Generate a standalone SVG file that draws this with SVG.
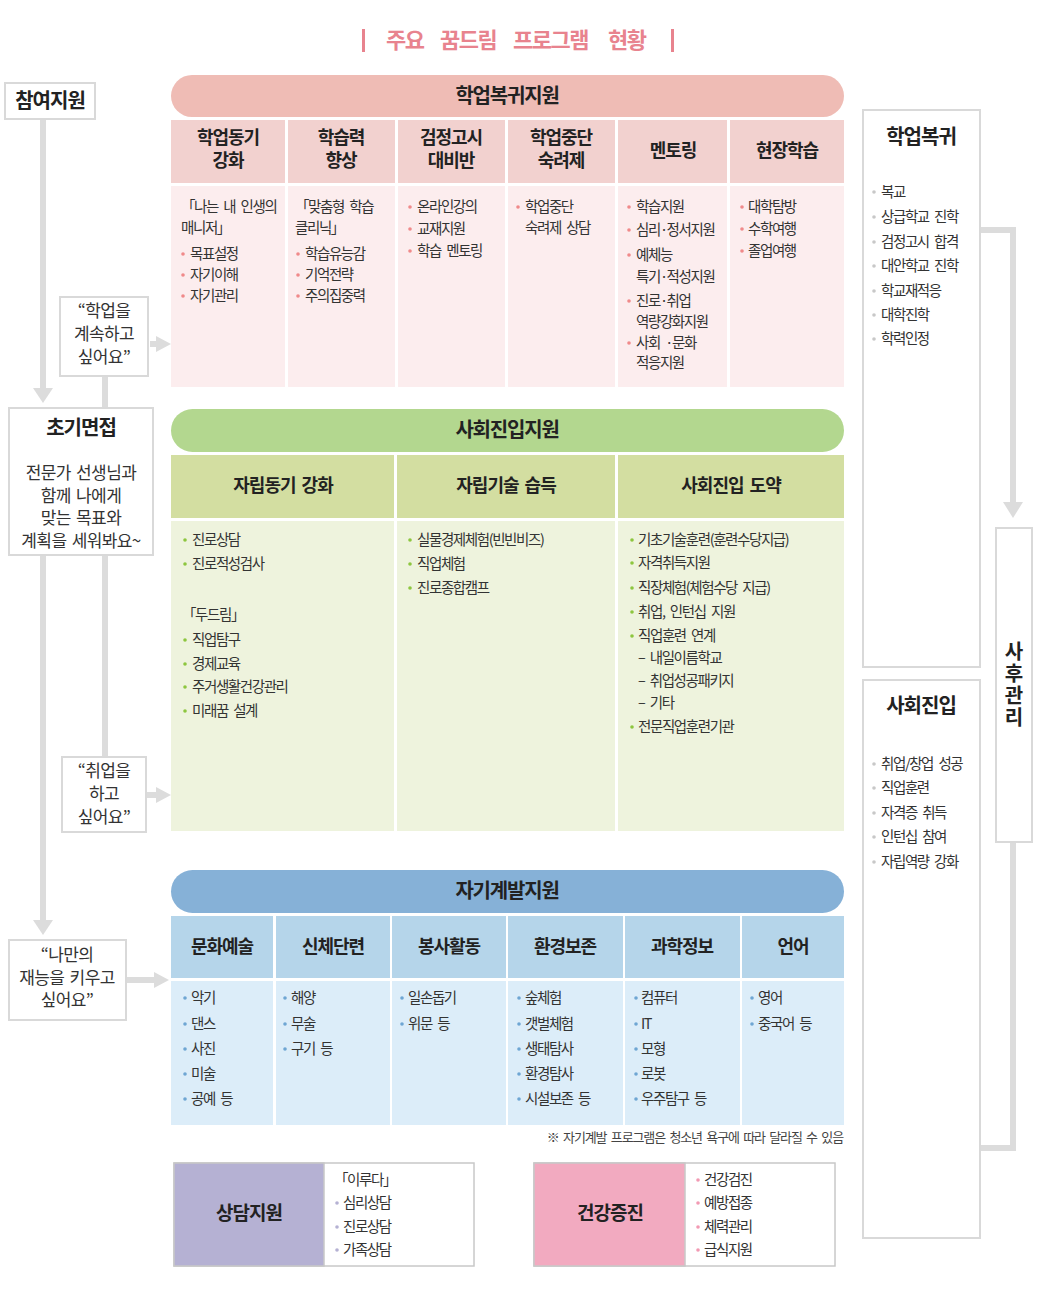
<svg xmlns="http://www.w3.org/2000/svg" width="1040" height="1300" viewBox="0 0 1040 1300">
<style>
text{font-family:"Noto Sans CJK KR","Noto Sans",sans-serif;}
.ttl{font-size:22px;font-weight:700;fill:#e8838e;letter-spacing:-1.5px;}
.pill{font-size:20px;font-weight:700;fill:#222;letter-spacing:-1.2px;text-anchor:middle;}
.hd{font-size:18px;font-weight:700;fill:#222;letter-spacing:-1px;word-spacing:3px;text-anchor:middle;}
.t{font-size:14.5px;fill:#333;letter-spacing:-1.4px;word-spacing:3.5px;}
.lt{font-size:17px;fill:#333;letter-spacing:-0.6px;word-spacing:2px;text-anchor:middle;}
.bt{font-size:20px;font-weight:700;fill:#222;letter-spacing:-1px;text-anchor:middle;}
.note{font-size:13px;fill:#444;letter-spacing:-1.1px;word-spacing:2.5px;text-anchor:end;}
.box{fill:#fff;stroke:#d9d9d9;stroke-width:2;}
.ln{fill:none;stroke:#dcdcdc;stroke-width:6;}
.ah{fill:#dcdcdc;}
.bp{fill:#f08a8a;}
.bg{fill:#8dc63f;}
.bb{fill:#6ea6d3;}
.bl{fill:#b5b1d3;}
.bk{fill:#f29ab3;}
.bz{fill:#c8c8c8;}
</style>

<!-- title -->
<g id="title">
<rect x="362" y="29" width="3" height="23" fill="#e8838e"/>
<rect x="671" y="29" width="3" height="23" fill="#e8838e"/>
<text class="ttl" y="48"><tspan x="386">주요</tspan><tspan x="440">꿈드림</tspan><tspan x="513">프로그램</tspan><tspan x="608">현황</tspan></text>
</g>

<!-- connectors -->
<g id="connectors">
<line class="ln" x1="43" y1="120" x2="43" y2="389"/>
<polygon class="ah" points="33,388 53,388 43,403"/>
<line class="ln" x1="105" y1="376" x2="105" y2="757"/>
<line class="ln" x1="43" y1="555" x2="43" y2="921"/>
<polygon class="ah" points="33,920 53,920 43,935"/>
<line class="ln" x1="150" y1="344" x2="158" y2="344"/>
<polygon class="ah" points="156,336 156,352 171,344"/>
<line class="ln" x1="147" y1="795" x2="158" y2="795"/>
<polygon class="ah" points="156,787 156,803 171,795"/>
<line class="ln" x1="127" y1="980" x2="156" y2="980"/>
<polygon class="ah" points="154,972 154,988 169,980"/>
<polyline class="ln" points="981,230 1013,230 1013,503"/>
<polygon class="ah" points="1003,502 1023,502 1013,518"/>
<polyline class="ln" points="1013,842 1013,1148 981,1148"/>
</g>

<!-- left nodes -->
<g id="n-participation">
<rect class="box" x="5" y="83" width="90" height="36"/>
<text class="bt" x="50" y="108">참여지원</text>
</g>
<g id="n-want-study">
<rect class="box" x="60" y="297" width="88" height="79"/>
<text class="lt" y="317"><tspan x="104">“학업을</tspan><tspan x="104" dy="23">계속하고</tspan><tspan x="104" dy="23">싶어요”</tspan></text>
</g>
<g id="n-interview">
<rect class="box" x="9" y="408" width="144" height="147"/>
<text class="bt" x="81" y="435">초기면접</text>
<text class="lt" y="479"><tspan x="81">전문가 선생님과</tspan><tspan x="81" dy="23">함께 나에게</tspan><tspan x="81" dy="22">맞는 목표와</tspan><tspan x="81" dy="23">계획을 세워봐요~</tspan></text>
</g>
<g id="n-want-job">
<rect class="box" x="62" y="757" width="84" height="75"/>
<text class="lt" y="777"><tspan x="104">“취업을</tspan><tspan x="104" dy="23">하고</tspan><tspan x="104" dy="23">싶어요”</tspan></text>
</g>
<g id="n-want-talent">
<rect class="box" x="9" y="940" width="117" height="80"/>
<text class="lt" y="961"><tspan x="67">“나만의</tspan><tspan x="67" dy="23">재능을 키우고</tspan><tspan x="67" dy="22">싶어요”</tspan></text>
</g>

<!-- academic return support -->
<g id="n-academic">
<rect x="171" y="75" width="673" height="42" rx="21" fill="#efbcb5"/>
<text class="pill" x="507" y="103">학업복귀지원</text>
<g fill="#f2d1cf">
<rect x="171" y="120" width="114" height="63"/>
<rect x="288" y="120" width="107" height="63"/>
<rect x="398" y="120" width="107" height="63"/>
<rect x="508" y="120" width="107" height="63"/>
<rect x="618" y="120" width="109" height="63"/>
<rect x="730" y="120" width="114" height="63"/>
</g>
<g fill="#fcedee">
<rect x="171" y="186" width="114" height="201"/>
<rect x="288" y="186" width="107" height="201"/>
<rect x="398" y="186" width="107" height="201"/>
<rect x="508" y="186" width="107" height="201"/>
<rect x="618" y="186" width="109" height="201"/>
<rect x="730" y="186" width="114" height="201"/>
</g>
<text class="hd" y="144"><tspan x="228">학업동기</tspan><tspan x="228" dy="23">강화</tspan></text>
<text class="hd" y="144"><tspan x="341">학습력</tspan><tspan x="341" dy="23">향상</tspan></text>
<text class="hd" y="144"><tspan x="451">검정고시</tspan><tspan x="451" dy="23">대비반</tspan></text>
<text class="hd" y="144"><tspan x="561">학업중단</tspan><tspan x="561" dy="23">숙려제</tspan></text>
<text class="hd" x="673" y="157">멘토링</text>
<text class="hd" x="787" y="157">현장학습</text>

<text class="t" y="212"><tspan x="181">「나는 내 인생의</tspan><tspan x="181" dy="21">매니저」</tspan></text>
<circle class="bp" cx="183" cy="254" r="1.8"/><text class="t" x="190" y="259">목표설정</text>
<circle class="bp" cx="183" cy="275" r="1.8"/><text class="t" x="190" y="280">자기이해</text>
<circle class="bp" cx="183" cy="296" r="1.8"/><text class="t" x="190" y="301">자기관리</text>

<text class="t" y="212"><tspan x="295">「맞춤형 학습</tspan><tspan x="295" dy="21">클리닉」</tspan></text>
<circle class="bp" cx="298" cy="254" r="1.8"/><text class="t" x="305" y="259">학습유능감</text>
<circle class="bp" cx="298" cy="275" r="1.8"/><text class="t" x="305" y="280">기억전략</text>
<circle class="bp" cx="298" cy="296" r="1.8"/><text class="t" x="305" y="301">주의집중력</text>

<circle class="bp" cx="410" cy="207" r="1.8"/><text class="t" x="417" y="212">온라인강의</text>
<circle class="bp" cx="410" cy="229" r="1.8"/><text class="t" x="417" y="234">교재지원</text>
<circle class="bp" cx="410" cy="251" r="1.8"/><text class="t" x="417" y="256">학습 멘토링</text>

<circle class="bp" cx="518" cy="207" r="1.8"/><text class="t" y="212"><tspan x="525">학업중단</tspan><tspan x="525" dy="21">숙려제 상담</tspan></text>

<circle class="bp" cx="629" cy="207" r="1.8"/><text class="t" x="636" y="212">학습지원</text>
<circle class="bp" cx="629" cy="230" r="1.8"/><text class="t" x="636" y="235">심리·정서지원</text>
<circle class="bp" cx="629" cy="255" r="1.8"/><text class="t" y="260"><tspan x="636">예체능</tspan><tspan x="636" dy="22">특기·적성지원</tspan></text>
<circle class="bp" cx="629" cy="301" r="1.8"/><text class="t" y="306"><tspan x="636">진로·취업</tspan><tspan x="636" dy="21">역량강화지원</tspan></text>
<circle class="bp" cx="629" cy="343" r="1.8"/><text class="t" y="348"><tspan x="636">사회 ·문화</tspan><tspan x="636" dy="20">적응지원</tspan></text>

<circle class="bp" cx="742" cy="207" r="1.8"/><text class="t" x="748" y="212">대학탐방</text>
<circle class="bp" cx="742" cy="229" r="1.8"/><text class="t" x="748" y="234">수학여행</text>
<circle class="bp" cx="742" cy="251" r="1.8"/><text class="t" x="748" y="256">졸업여행</text>
</g>

<!-- social entry support -->
<g id="n-social">
<rect x="171" y="409" width="673" height="43" rx="21.5" fill="#b3d78f"/>
<text class="pill" x="507" y="437">사회진입지원</text>
<g fill="#d3dea1">
<rect x="171" y="455" width="223" height="63"/>
<rect x="397" y="455" width="218" height="63"/>
<rect x="618" y="455" width="226" height="63"/>
</g>
<g fill="#eef3dd">
<rect x="171" y="521" width="223" height="310"/>
<rect x="397" y="521" width="218" height="310"/>
<rect x="618" y="521" width="226" height="310"/>
</g>
<text class="hd" x="283" y="492">자립동기 강화</text>
<text class="hd" x="506" y="492">자립기술 습득</text>
<text class="hd" x="731" y="492">사회진입 도약</text>

<circle class="bg" cx="185" cy="540" r="1.8"/><text class="t" x="192" y="545">진로상담</text>
<circle class="bg" cx="185" cy="564" r="1.8"/><text class="t" x="192" y="569">진로적성검사</text>
<text class="t" x="182" y="620">「두드림」</text>
<circle class="bg" cx="185" cy="640" r="1.8"/><text class="t" x="192" y="645">직업탐구</text>
<circle class="bg" cx="185" cy="664" r="1.8"/><text class="t" x="192" y="669">경제교육</text>
<circle class="bg" cx="185" cy="687" r="1.8"/><text class="t" x="192" y="692">주거생활건강관리</text>
<circle class="bg" cx="185" cy="711" r="1.8"/><text class="t" x="192" y="716">미래꿈 설계</text>

<circle class="bg" cx="410" cy="540" r="1.8"/><text class="t" x="417" y="545">실물경제체험(빈빈비즈)</text>
<circle class="bg" cx="410" cy="564" r="1.8"/><text class="t" x="417" y="569">직업체험</text>
<circle class="bg" cx="410" cy="588" r="1.8"/><text class="t" x="417" y="593">진로종합캠프</text>

<circle class="bg" cx="632" cy="540" r="1.8"/><text class="t" x="638" y="545">기초기술훈련(훈련수당지급)</text>
<circle class="bg" cx="632" cy="563" r="1.8"/><text class="t" x="638" y="568">자격취득지원</text>
<circle class="bg" cx="632" cy="588" r="1.8"/><text class="t" x="638" y="593">직장체험(체험수당 지급)</text>
<circle class="bg" cx="632" cy="612" r="1.8"/><text class="t" x="638" y="617">취업, 인턴십 지원</text>
<circle class="bg" cx="632" cy="636" r="1.8"/><text class="t" x="638" y="641">직업훈련 연계</text>
<text class="t" x="638" y="663">– 내일이름학교</text>
<text class="t" x="638" y="686">– 취업성공패키지</text>
<text class="t" x="638" y="708">– 기타</text>
<circle class="bg" cx="632" cy="727" r="1.8"/><text class="t" x="638" y="732">전문직업훈련기관</text>
</g>

<!-- self development support -->
<g id="n-selfdev">
<rect x="171" y="870" width="673" height="43" rx="21.5" fill="#86b1d7"/>
<text class="pill" x="507" y="898">자기계발지원</text>
<g fill="#b5d5ea">
<rect x="171" y="916" width="102" height="62"/>
<rect x="276" y="916" width="114" height="62"/>
<rect x="392" y="916" width="114" height="62"/>
<rect x="508" y="916" width="115" height="62"/>
<rect x="625" y="916" width="115" height="62"/>
<rect x="742" y="916" width="102" height="62"/>
</g>
<g fill="#dcedf9">
<rect x="171" y="981" width="102" height="144"/>
<rect x="276" y="981" width="114" height="144"/>
<rect x="392" y="981" width="114" height="144"/>
<rect x="508" y="981" width="115" height="144"/>
<rect x="625" y="981" width="115" height="144"/>
<rect x="742" y="981" width="102" height="144"/>
</g>
<text class="hd" x="222" y="953">문화예술</text>
<text class="hd" x="333" y="953">신체단련</text>
<text class="hd" x="449" y="953">봉사활동</text>
<text class="hd" x="565" y="953">환경보존</text>
<text class="hd" x="682" y="953">과학정보</text>
<text class="hd" x="793" y="953">언어</text>

<circle class="bb" cx="185" cy="998" r="1.8"/><text class="t" x="191" y="1003">악기</text>
<circle class="bb" cx="185" cy="1024" r="1.8"/><text class="t" x="191" y="1029">댄스</text>
<circle class="bb" cx="185" cy="1049" r="1.8"/><text class="t" x="191" y="1054">사진</text>
<circle class="bb" cx="185" cy="1074" r="1.8"/><text class="t" x="191" y="1079">미술</text>
<circle class="bb" cx="185" cy="1099" r="1.8"/><text class="t" x="191" y="1104">공예 등</text>

<circle class="bb" cx="285" cy="998" r="1.8"/><text class="t" x="291" y="1003">해양</text>
<circle class="bb" cx="285" cy="1024" r="1.8"/><text class="t" x="291" y="1029">무술</text>
<circle class="bb" cx="285" cy="1049" r="1.8"/><text class="t" x="291" y="1054">구기 등</text>

<circle class="bb" cx="402" cy="998" r="1.8"/><text class="t" x="408" y="1003">일손돕기</text>
<circle class="bb" cx="402" cy="1024" r="1.8"/><text class="t" x="408" y="1029">위문 등</text>

<circle class="bb" cx="519" cy="998" r="1.8"/><text class="t" x="525" y="1003">숲체험</text>
<circle class="bb" cx="519" cy="1024" r="1.8"/><text class="t" x="525" y="1029">갯벌체험</text>
<circle class="bb" cx="519" cy="1049" r="1.8"/><text class="t" x="525" y="1054">생태탐사</text>
<circle class="bb" cx="519" cy="1074" r="1.8"/><text class="t" x="525" y="1079">환경탐사</text>
<circle class="bb" cx="519" cy="1099" r="1.8"/><text class="t" x="525" y="1104">시설보존 등</text>

<circle class="bb" cx="636" cy="998" r="1.8"/><text class="t" x="641" y="1003">컴퓨터</text>
<circle class="bb" cx="636" cy="1024" r="1.8"/><text class="t" x="641" y="1029">IT</text>
<circle class="bb" cx="636" cy="1049" r="1.8"/><text class="t" x="641" y="1054">모형</text>
<circle class="bb" cx="636" cy="1074" r="1.8"/><text class="t" x="641" y="1079">로봇</text>
<circle class="bb" cx="636" cy="1099" r="1.8"/><text class="t" x="641" y="1104">우주탐구 등</text>

<circle class="bb" cx="752" cy="998" r="1.8"/><text class="t" x="758" y="1003">영어</text>
<circle class="bb" cx="752" cy="1024" r="1.8"/><text class="t" x="758" y="1029">중국어 등</text>

<text class="note" x="843" y="1142">※ 자기계발 프로그램은 청소년 욕구에 따라 달라질 수 있음</text>
</g>

<!-- bottom boxes -->
<g id="n-counsel">
<rect x="174" y="1163" width="300" height="103" fill="#fff" stroke="#c8c8c8" stroke-width="1.5"/>
<rect x="174" y="1163" width="150" height="103" fill="#b5b1d3" stroke="#c8c8c8" stroke-width="1.5"/>
<text class="bt" x="249" y="1220" style="font-size:19px">상담지원</text>
<text class="t" x="334" y="1185">「이루다」</text>
<circle class="bl" cx="337" cy="1203" r="1.8"/><text class="t" x="343" y="1208">심리상담</text>
<circle class="bl" cx="337" cy="1227" r="1.8"/><text class="t" x="343" y="1232">진로상담</text>
<circle class="bl" cx="337" cy="1250" r="1.8"/><text class="t" x="343" y="1255">가족상담</text>
</g>
<g id="n-health">
<rect x="534" y="1163" width="301" height="103" fill="#fff" stroke="#c8c8c8" stroke-width="1.5"/>
<rect x="534" y="1163" width="151" height="103" fill="#f2aac0" stroke="#c8c8c8" stroke-width="1.5"/>
<text class="bt" x="610" y="1220" style="font-size:19px">건강증진</text>
<circle class="bk" cx="698" cy="1180" r="1.8"/><text class="t" x="704" y="1185">건강검진</text>
<circle class="bk" cx="698" cy="1203" r="1.8"/><text class="t" x="704" y="1208">예방접종</text>
<circle class="bk" cx="698" cy="1227" r="1.8"/><text class="t" x="704" y="1232">체력관리</text>
<circle class="bk" cx="698" cy="1250" r="1.8"/><text class="t" x="704" y="1255">급식지원</text>
</g>

<!-- right column -->
<g id="n-out-academic">
<rect class="box" x="863" y="110" width="117" height="557"/>
<text class="bt" x="921" y="144">학업복귀</text>
<circle class="bz" cx="874" cy="192" r="1.8"/><text class="t" x="881" y="197">복교</text>
<circle class="bz" cx="874" cy="217" r="1.8"/><text class="t" x="881" y="222">상급학교 진학</text>
<circle class="bz" cx="874" cy="242" r="1.8"/><text class="t" x="881" y="247">검정고시 합격</text>
<circle class="bz" cx="874" cy="266" r="1.8"/><text class="t" x="881" y="271">대안학교 진학</text>
<circle class="bz" cx="874" cy="291" r="1.8"/><text class="t" x="881" y="296">학교재적응</text>
<circle class="bz" cx="874" cy="315" r="1.8"/><text class="t" x="881" y="320">대학진학</text>
<circle class="bz" cx="874" cy="339" r="1.8"/><text class="t" x="881" y="344">학력인정</text>
</g>
<g id="n-out-social">
<rect class="box" x="863" y="680" width="117" height="558"/>
<text class="bt" x="921" y="713">사회진입</text>
<circle class="bz" cx="874" cy="764" r="1.8"/><text class="t" x="881" y="769">취업/창업 성공</text>
<circle class="bz" cx="874" cy="788" r="1.8"/><text class="t" x="881" y="793">직업훈련</text>
<circle class="bz" cx="874" cy="813" r="1.8"/><text class="t" x="881" y="818">자격증 취득</text>
<circle class="bz" cx="874" cy="837" r="1.8"/><text class="t" x="881" y="842">인턴십 참여</text>
<circle class="bz" cx="874" cy="862" r="1.8"/><text class="t" x="881" y="867">자립역량 강화</text>
</g>
<g id="n-aftercare">
<rect class="box" x="996" y="528" width="36" height="314"/>
<text class="bt" x="1014" y="685" writing-mode="vertical-rl" style="letter-spacing:2px">사후관리</text>
</g>
</svg>
